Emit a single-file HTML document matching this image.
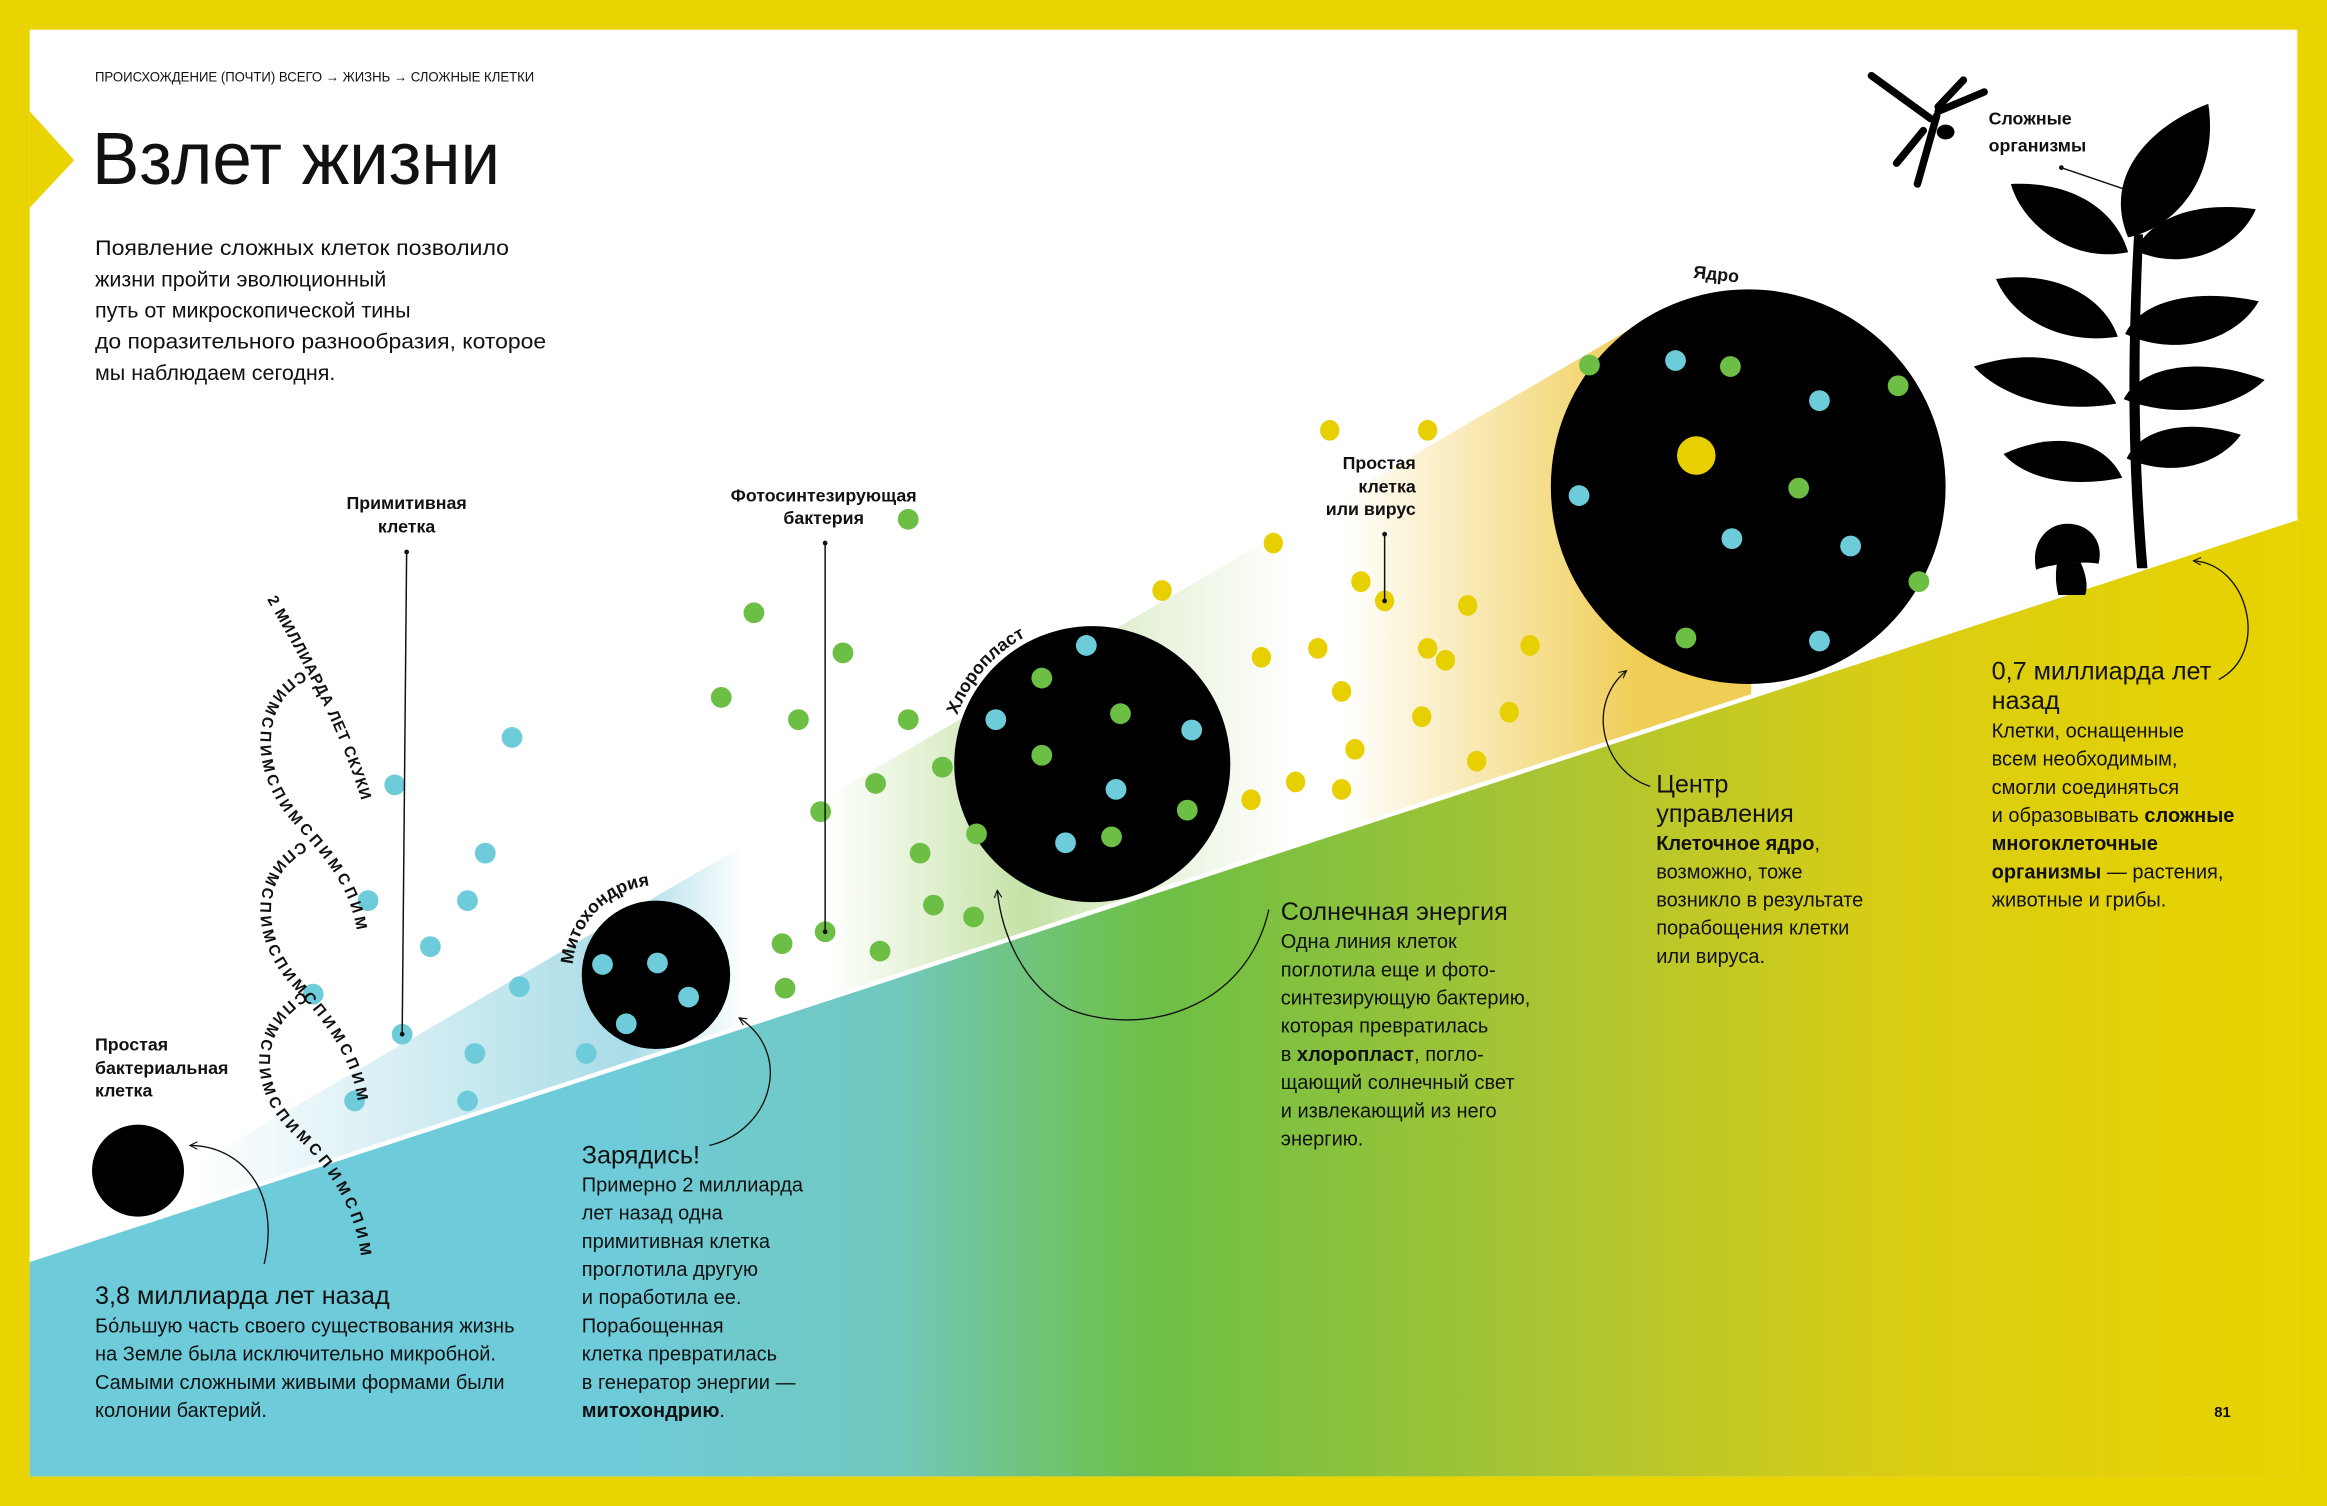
<!DOCTYPE html>
<html><head><meta charset="utf-8"><style>
html,body{margin:0;padding:0;background:#fff}
svg{display:block}
text{font-family:"Liberation Sans","DejaVu Sans",sans-serif;fill:#111}
.b{font-weight:bold}
.n{font-family:"Liberation Sans Narrow","Liberation Sans",sans-serif}
</style></head><body>
<svg width="2327" height="1506" viewBox="0 0 1568 1015" preserveAspectRatio="none" xmlns="http://www.w3.org/2000/svg">
<defs>
<linearGradient id="wedge" gradientUnits="userSpaceOnUse" x1="20" y1="0" x2="1140" y2="0">
<stop offset="0" stop-color="#fff"/>
<stop offset="0.1" stop-color="#fff"/>
<stop offset="0.36" stop-color="#a9dce7"/>
<stop offset="0.43" stop-color="#fff"/>
<stop offset="0.48" stop-color="#fff"/>
<stop offset="0.6" stop-color="#c5e2a6"/>
<stop offset="0.67" stop-color="#e6f1d8"/>
<stop offset="0.76" stop-color="#fff"/>
<stop offset="0.79" stop-color="#fff"/>
<stop offset="0.97" stop-color="#f0cd55"/>
</linearGradient>
<linearGradient id="ground" gradientUnits="userSpaceOnUse" x1="20" y1="0" x2="1548" y2="0">
<stop offset="0" stop-color="#6ecbd9"/>
<stop offset="0.26" stop-color="#6ecbd9"/>
<stop offset="0.38" stop-color="#71c8be"/>
<stop offset="0.47" stop-color="#6fc25c"/>
<stop offset="0.5" stop-color="#6dbf45"/>
<stop offset="0.68" stop-color="#aec532"/>
<stop offset="0.82" stop-color="#d9cd14"/>
<stop offset="1" stop-color="#e8d300"/>
</linearGradient>
<marker id="ah" viewBox="0 0 10 10" refX="9" refY="5" markerWidth="7" markerHeight="7" orient="auto">
<path d="M1,1 L9,5 L1,9" fill="none" stroke="#111" stroke-width="1.2"/>
</marker>
<path id="mitoArc" d="M386,650 A58,58 0 0 1 500,640" fill="none"/>
<path id="chlArc" d="M645,482 A97,97 0 0 1 735,418" fill="none"/>
</defs>

<rect x="0" y="0" width="1568" height="1015" fill="#e9d300"/>
<rect x="20" y="20" width="1528" height="975" fill="#fff"/>
<polygon points="20,75 50,108 20,140" fill="#e9d300"/>

<polygon points="20,850 1110,215 1180,200 1180,520 20,860" fill="url(#wedge)"/>
<polygon points="20,850 1548,350 1548,995 20,995" fill="url(#ground)"/>
<line x1="20" y1="849" x2="1548" y2="349" stroke="#fff" stroke-width="3"/>

<text x="64" y="55" class="n" font-size="9.5" textLength="296" lengthAdjust="spacingAndGlyphs">ПРОИСХОЖДЕНИЕ (ПОЧТИ) ВСЕГО → ЖИЗНЬ → СЛОЖНЫЕ КЛЕТКИ</text>
<text x="62" y="124" class="n" font-size="50" textLength="275" lengthAdjust="spacingAndGlyphs">Взлет жизни</text>
<g font-size="14.5" class="n">
<text x="64" y="172" textLength="279" lengthAdjust="spacingAndGlyphs">Появление сложных клеток позволило</text>
<text x="64" y="193">жизни пройти эволюционный</text>
<text x="64" y="214">путь от микроскопической тины</text>
<text x="64" y="235" textLength="304" lengthAdjust="spacingAndGlyphs">до поразительного разнообразия, которое</text>
<text x="64" y="256">мы наблюдаем сегодня.</text>
</g>

<g fill="#6ecbd9">
<circle cx="345" cy="497" r="7"/><circle cx="266" cy="529" r="7"/><circle cx="327" cy="575" r="7"/>
<circle cx="315" cy="607" r="7"/><circle cx="248" cy="607" r="7"/><circle cx="290" cy="638" r="7"/>
<circle cx="350" cy="665" r="7"/><circle cx="211" cy="670" r="7"/><circle cx="271" cy="697" r="7"/>
<circle cx="320" cy="710" r="7"/><circle cx="239" cy="742" r="7"/><circle cx="315" cy="742" r="7"/>
<circle cx="395" cy="710" r="7"/>
</g>
<g fill="#6dbe45">
<circle cx="612" cy="350" r="7"/><circle cx="508" cy="413" r="7"/><circle cx="568" cy="440" r="7"/>
<circle cx="486" cy="470" r="7"/><circle cx="538" cy="485" r="7"/><circle cx="612" cy="485" r="7"/>
<circle cx="553" cy="547" r="7"/><circle cx="590" cy="528" r="7"/><circle cx="635" cy="517" r="7"/>
<circle cx="620" cy="575" r="7"/><circle cx="629" cy="610" r="7"/><circle cx="656" cy="618" r="7"/>
<circle cx="527" cy="636" r="7"/><circle cx="556" cy="628" r="7"/><circle cx="593" cy="641" r="7"/>
<circle cx="529" cy="666" r="7"/>
</g>
<g fill="#e8cf00">
<ellipse cx="896" cy="290" rx="6.5" ry="7"/><ellipse cx="962" cy="290" rx="6.5" ry="7"/><ellipse cx="858" cy="366" rx="6.5" ry="7"/>
<ellipse cx="917" cy="392" rx="6.5" ry="7"/><ellipse cx="989" cy="408" rx="6.5" ry="7"/>
<ellipse cx="783" cy="398" rx="6.5" ry="7"/><ellipse cx="888" cy="437" rx="6.5" ry="7"/><ellipse cx="850" cy="443" rx="6.5" ry="7"/>
<ellipse cx="962" cy="437" rx="6.5" ry="7"/><ellipse cx="974" cy="445" rx="6.5" ry="7"/><ellipse cx="1031" cy="435" rx="6.5" ry="7"/>
<ellipse cx="904" cy="466" rx="6.5" ry="7"/><ellipse cx="958" cy="483" rx="6.5" ry="7"/><ellipse cx="1017" cy="480" rx="6.5" ry="7"/>
<ellipse cx="913" cy="505" rx="6.5" ry="7"/><ellipse cx="995" cy="513" rx="6.5" ry="7"/><ellipse cx="873" cy="527" rx="6.5" ry="7"/>
<ellipse cx="843" cy="539" rx="6.5" ry="7"/><ellipse cx="904" cy="532" rx="6.5" ry="7"/>
<ellipse cx="933" cy="405" rx="6.5" ry="7"/>
</g>

<circle cx="93" cy="789" r="31" fill="#000"/>
<circle cx="442" cy="657" r="50" fill="#000"/>
<g fill="#6ecbd9"><circle cx="406" cy="650" r="7"/><circle cx="443" cy="649" r="7"/><circle cx="464" cy="672" r="7"/><circle cx="422" cy="690" r="7"/></g>
<circle cx="736" cy="515" r="93" fill="#000"/>
<g fill="#6ecbd9"><circle cx="732" cy="435" r="7"/><circle cx="671" cy="485" r="7"/><circle cx="803" cy="492" r="7"/><circle cx="752" cy="532" r="7"/><circle cx="718" cy="568" r="7"/></g>
<g fill="#6dbe45"><circle cx="702" cy="457" r="7"/><circle cx="755" cy="481" r="7"/><circle cx="702" cy="509" r="7"/><circle cx="800" cy="546" r="7"/><circle cx="749" cy="564" r="7"/><circle cx="658" cy="562" r="7"/></g>
<circle cx="1178" cy="328" r="133" fill="#000"/>
<g fill="#6dbe45"><circle cx="1071" cy="246" r="7"/><circle cx="1166" cy="247" r="7"/><circle cx="1279" cy="260" r="7"/><circle cx="1212" cy="329" r="7"/><circle cx="1293" cy="392" r="7"/><circle cx="1136" cy="430" r="7"/></g>
<g fill="#6ecbd9"><circle cx="1129" cy="243" r="7"/><circle cx="1226" cy="270" r="7"/><circle cx="1064" cy="334" r="7"/><circle cx="1167" cy="363" r="7"/><circle cx="1247" cy="368" r="7"/><circle cx="1226" cy="432" r="7"/></g>
<circle cx="1143" cy="307" r="13" fill="#e8cf00"/>

<g class="b" font-size="12">
<text><textPath href="#mitoArc">Митохондрия</textPath></text>
<text><textPath href="#chlArc">Хлоропласт</textPath></text>
</g>
<text class="b" font-size="12" x="1141" y="189" transform="rotate(6 1158 185)">Ядро</text>

<g font-size="12" class="b" text-anchor="middle">
<text x="274" y="343">Примитивная</text><text x="274" y="359">клетка</text>
<text x="555" y="338">Фотосинтезирующая</text><text x="555" y="353">бактерия</text>
</g>
<g font-size="12" class="b" text-anchor="end">
<text x="954" y="316">Простая</text><text x="954" y="332">клетка</text><text x="954" y="347">или вирус</text>
</g>
<g stroke="#111" stroke-width="1">
<line x1="274" y1="372" x2="271" y2="697"/><line x1="556" y1="366" x2="556" y2="628"/><line x1="933" y1="360" x2="933" y2="405"/>
<line x1="1389" y1="113" x2="1433" y2="128"/>
</g>
<g fill="#111"><circle cx="274" cy="372" r="1.6"/><circle cx="271" cy="697" r="1.6"/><circle cx="556" cy="366" r="1.6"/><circle cx="556" cy="628" r="1.6"/><circle cx="933" cy="360" r="1.6"/><circle cx="933" cy="405" r="1.6"/><circle cx="1389" cy="113" r="1.6"/></g>

<g font-size="12" class="b">
<text x="64" y="708">Простая</text><text x="64" y="724">бактериальная</text><text x="64" y="739">клетка</text>
<text x="1340" y="84">Сложные</text><text x="1340" y="102">организмы</text>
</g>

<path id="s1" d="M180,404 C200,440 230,490 246,548" fill="none"/>
<path id="s2" d="M204,452 C168,468 166,520 198,555 C220,580 240,600 242,642" fill="none"/>
<path id="s3" d="M204,567 C168,585 166,632 198,666 C220,690 240,715 242,752" fill="none"/>
<path id="s4" d="M204,668 C166,690 166,735 198,765 C225,790 242,820 244,855" fill="none"/>
<g font-size="10.5" class="b">
<text><textPath href="#s1" textLength="150" lengthAdjust="spacing">2 МИЛЛИАРДА ЛЕТ СКУКИ</textPath></text>
<text><textPath href="#s2" textLength="205" lengthAdjust="spacing">СПИМСПИМСПИМСПИМСПИМ</textPath></text>
<text><textPath href="#s3" textLength="205" lengthAdjust="spacing">СПИМСПИМСПИМСПИМСПИМ</textPath></text>
<text><textPath href="#s4" textLength="210" lengthAdjust="spacing">СПИМСПИМСПИМСПИМСПИМ</textPath></text>
</g>

<g fill="none" stroke="#111" stroke-width="0.9">
<path d="M178,852 C190,800 160,772 128,772" marker-end="url(#ah)"/>
<path d="M478,772 C520,762 535,710 498,686" marker-end="url(#ah)"/>
<path d="M855,613 C840,680 770,700 720,680 C690,665 675,630 672,600" marker-end="url(#ah)"/>
<path d="M1112,530 C1080,520 1068,475 1096,452" marker-end="url(#ah)"/>
<path d="M1495,458 C1530,440 1515,380 1478,378" marker-end="url(#ah)"/>
</g>

<g class="n">
<text x="64" y="879" font-size="17">3,8 миллиарда лет назад</text>
<g font-size="13.5">
<text x="64" y="898">Бо́льшую часть своего существования жизнь</text>
<text x="64" y="917">на Земле была исключительно микробной.</text>
<text x="64" y="936">Самыми сложными живыми формами были</text>
<text x="64" y="955">колонии бактерий.</text>
</g>
<text x="392" y="784" font-size="17">Зарядись!</text>
<g font-size="13.5">
<text x="392" y="803">Примерно 2 миллиарда</text>
<text x="392" y="822">лет назад одна</text>
<text x="392" y="841">примитивная клетка</text>
<text x="392" y="860">проглотила другую</text>
<text x="392" y="879">и поработила ее.</text>
<text x="392" y="898">Порабощенная</text>
<text x="392" y="917">клетка превратилась</text>
<text x="392" y="936">в генератор энергии —</text>
<text x="392" y="955"><tspan class="b">митохондрию</tspan>.</text>
</g>
<text x="863" y="620" font-size="17">Солнечная энергия</text>
<g font-size="13.5">
<text x="863" y="639">Одна линия клеток</text>
<text x="863" y="658">поглотила еще и фото-</text>
<text x="863" y="677">синтезирующую бактерию,</text>
<text x="863" y="696">которая превратилась</text>
<text x="863" y="715">в <tspan class="b">хлоропласт</tspan>, погло-</text>
<text x="863" y="734">щающий солнечный свет</text>
<text x="863" y="753">и извлекающий из него</text>
<text x="863" y="772">энергию.</text>
</g>
<text x="1116" y="534" font-size="17">Центр</text>
<text x="1116" y="554" font-size="17">управления</text>
<g font-size="13.5">
<text x="1116" y="573"><tspan class="b">Клеточное ядро</tspan>,</text>
<text x="1116" y="592">возможно, тоже</text>
<text x="1116" y="611">возникло в результате</text>
<text x="1116" y="630">порабощения клетки</text>
<text x="1116" y="649">или вируса.</text>
</g>
<text x="1342" y="458" font-size="17">0,7 миллиарда лет</text>
<text x="1342" y="478" font-size="17">назад</text>
<g font-size="13.5">
<text x="1342" y="497">Клетки, оснащенные</text>
<text x="1342" y="516">всем необходимым,</text>
<text x="1342" y="535">смогли соединяться</text>
<text x="1342" y="554">и образовывать <tspan class="b">сложные</tspan></text>
<text x="1342" y="573" class="b">многоклеточные</text>
<text x="1342" y="592"><tspan class="b">организмы</tspan> — растения,</text>
<text x="1342" y="611">животные и грибы.</text>
</g>
</g>
<text x="1492" y="955" font-size="10" class="b">81</text>

<g fill="#000">
<path d="M1438,158 C1434,230 1433,300 1440,383 L1447,383 C1440,300 1441,230 1444,158 Z"/>
<path d="M1434,160 C1415,115 1455,82 1488,70 C1495,115 1470,152 1434,160 Z"/>
<path d="M1434,170 C1395,178 1362,150 1355,124 C1395,122 1425,140 1434,170 Z"/>
<path d="M1427,227 C1385,233 1355,212 1345,188 C1385,182 1418,200 1427,227 Z"/>
<path d="M1426,272 C1380,280 1345,264 1330,247 C1372,233 1412,243 1426,272 Z"/>
<path d="M1430,322 C1390,330 1362,320 1350,306 C1385,290 1418,296 1430,322 Z"/>
<path d="M1439,169 C1475,185 1510,165 1520,141 C1478,135 1448,148 1439,169 Z"/>
<path d="M1432,225 C1468,242 1508,228 1522,203 C1480,194 1443,202 1432,225 Z"/>
<path d="M1431,269 C1472,285 1510,272 1526,256 C1485,240 1443,246 1431,269 Z"/>
<path d="M1433,309 C1468,324 1498,310 1510,293 C1475,282 1443,288 1433,309 Z"/>
<path d="M1372,384 C1368,365 1380,353 1393,353 C1408,353 1418,365 1414,380 C1405,378 1382,380 1372,384 Z"/>
<path d="M1386,380 L1402,379 C1406,388 1407,396 1405,401 L1387,401 C1385,394 1385,386 1386,380 Z"/>
</g>
<g stroke="#000" stroke-width="5" stroke-linecap="round" fill="none">
<line x1="1261" y1="51" x2="1301" y2="80"/>
<line x1="1306" y1="75" x2="1337" y2="62"/>
<line x1="1306" y1="72" x2="1323" y2="54"/>
<line x1="1296" y1="88" x2="1278" y2="110"/>
<line x1="1305" y1="78" x2="1292" y2="124"/>
</g>
<ellipse cx="1311" cy="89" rx="6" ry="5" fill="#000"/>
</svg>
</body></html>
